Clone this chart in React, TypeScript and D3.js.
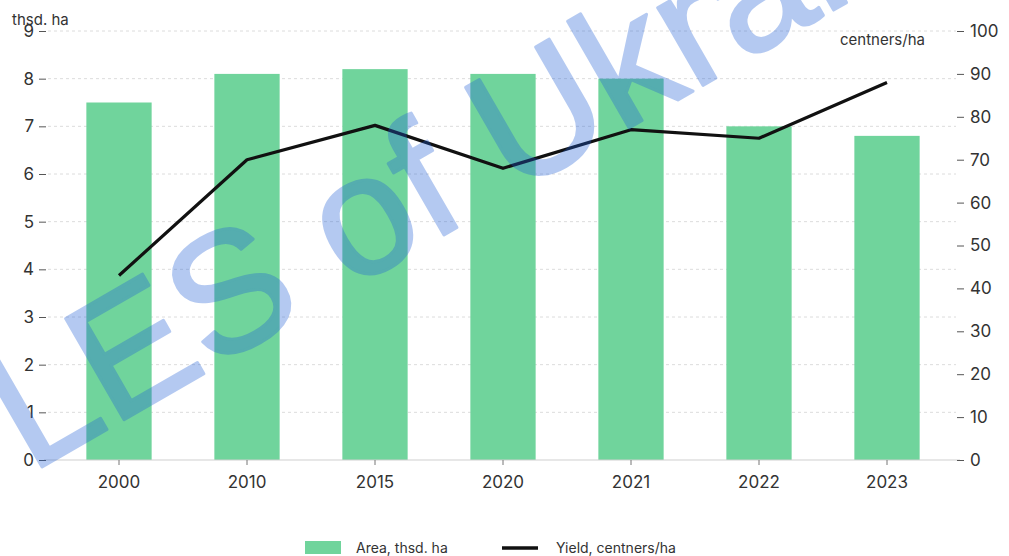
import { useRef, useEffect } from "react";
import * as d3 from "d3";

const years = ["2000", "2010", "2015", "2020", "2021", "2022", "2023"];
const area = [7.5, 8.1, 8.2, 8.1, 8.0, 7.0, 6.8];
const yieldVals = [43, 70, 78, 68, 77, 75, 88];
const leftTicks = [0, 1, 2, 3, 4, 5, 6, 7, 8, 9];
const rightTicks = [0, 10, 20, 30, 40, 50, 60, 70, 80, 90, 100];

const W = 1009;
const H = 556;
const FONT = "Inter, 'Noto Sans', sans-serif";

export default function App() {
  const ref = useRef<SVGSVGElement | null>(null);

  useEffect(() => {
    const svg = d3.select(ref.current!);
    svg.selectAll("*").remove();

    //scales
    const x = d3
      .scaleBand()
      .domain(years)
      .range([55, 951])
      .paddingInner(0.49)
      .paddingOuter(0.245);
    const yL = d3.scaleLinear().domain([0, 9]).range([460, 31]);
    const yR = d3.scaleLinear().domain([0, 100]).range([460, 31]);

    //grid
    svg
      .append("g")
      .selectAll("line")
      .data(leftTicks.filter((d) => d > 0))
      .join("line")
      .attr("x1", 48)
      .attr("x2", 956)
      .attr("y1", (d) => yL(d))
      .attr("y2", (d) => yL(d))
      .attr("stroke", "#dcdcdc")
      .attr("stroke-width", 1)
      .attr("stroke-dasharray", "3,3");

    //bars
    svg
      .append("g")
      .selectAll("rect")
      .data(area)
      .join("rect")
      .attr("x", (_, i) => x(years[i])!)
      .attr("width", x.bandwidth())
      .attr("y", (d) => yL(d))
      .attr("height", (d) => yL(0) - yL(d))
      .attr("fill", "#70d49c");

    //baseline
    svg
      .append("line")
      .attr("x1", 44)
      .attr("x2", 960)
      .attr("y1", yL(0))
      .attr("y2", yL(0))
      .attr("stroke", "#cfcfcf");

    //left axis
    const gl = svg.append("g").attr("transform", "translate(46,0)");
    gl.call(
      d3
        .axisLeft(yL)
        .tickValues(leftTicks)
        .tickSize(7)
        .tickPadding(5)
    );
    gl.select(".domain").remove();
    gl.selectAll(".tick line").attr("stroke", "#555");
    gl.selectAll(".tick text")
      .attr("font-family", FONT)
      .attr("font-size", 17)
      .attr("fill", "#333");

    //right axis
    const gr = svg.append("g").attr("transform", "translate(957,0)");
    gr.call(
      d3
        .axisRight(yR)
        .tickValues(rightTicks)
        .tickSize(7)
        .tickPadding(6)
    );
    gr.select(".domain").remove();
    gr.selectAll(".tick line").attr("stroke", "#555");
    gr.selectAll(".tick text")
      .attr("font-family", FONT)
      .attr("font-size", 17)
      .attr("fill", "#333");

    //bottom axis
    const gb = svg.append("g").attr("transform", `translate(0,${yL(0)})`);
    gb.call(d3.axisBottom(x).tickSize(5).tickPadding(11));
    gb.select(".domain").remove();
    gb.selectAll(".tick line").attr("stroke", "#777");
    gb.selectAll(".tick text")
      .attr("font-family", FONT)
      .attr("font-size", 17)
      .attr("fill", "#333");

    //yield line
    const lineGen = d3
      .line<number>()
      .x((_, i) => x(years[i])! + x.bandwidth() / 2)
      .y((d) => yR(d));
    svg
      .append("path")
      .datum(yieldVals)
      .attr("d", lineGen)
      .attr("fill", "none")
      .attr("stroke", "#111")
      .attr("stroke-width", 3.2)
      .attr("stroke-linejoin", "round");

    //axis titles
    svg
      .append("text")
      .attr("x", 12)
      .attr("y", 25)
      .attr("font-family", FONT)
      .attr("font-size", 15)
      .attr("fill", "#333")
      .text("thsd. ha");
    svg
      .append("text")
      .attr("x", 925)
      .attr("y", 45)
      .attr("text-anchor", "end")
      .attr("font-family", FONT)
      .attr("font-size", 15)
      .attr("fill", "#333")
      .text("centners/ha");

    //legend
    const lg = svg.append("g").attr("font-family", FONT).attr("font-size", 14).attr("fill", "#333");
    lg.append("rect").attr("x", 305).attr("y", 541).attr("width", 36).attr("height", 13).attr("fill", "#70d49c");
    lg.append("text").attr("x", 356).attr("y", 553).text("Area, thsd. ha");
    lg.append("line").attr("x1", 502).attr("x2", 538).attr("y1", 548).attr("y2", 548).attr("stroke", "#111").attr("stroke-width", 3.5);
    lg.append("text").attr("x", 556).attr("y", 553).text("Yield, centners/ha");

    //watermark
    svg
      .append("g")
      .attr("opacity", 0.33)
      .append("text")
      .attr("transform", "translate(30,474) rotate(-30)")
      .attr("font-family", "'Liberation Sans', Arial, sans-serif")
      .attr("font-size", 170)
      .attr("fill", "#1f5fd6")
      .attr("stroke", "#1f5fd6")
      .attr("stroke-width", 3)
      .attr("stroke-linejoin", "round")
      .text("LES of Ukraine");
  }, []);

  return (
    <svg
      ref={ref}
      width={W}
      height={H}
      style={{ position: "absolute", left: 0, top: 0, background: "#fff" }}
    ></svg>
  );
}
